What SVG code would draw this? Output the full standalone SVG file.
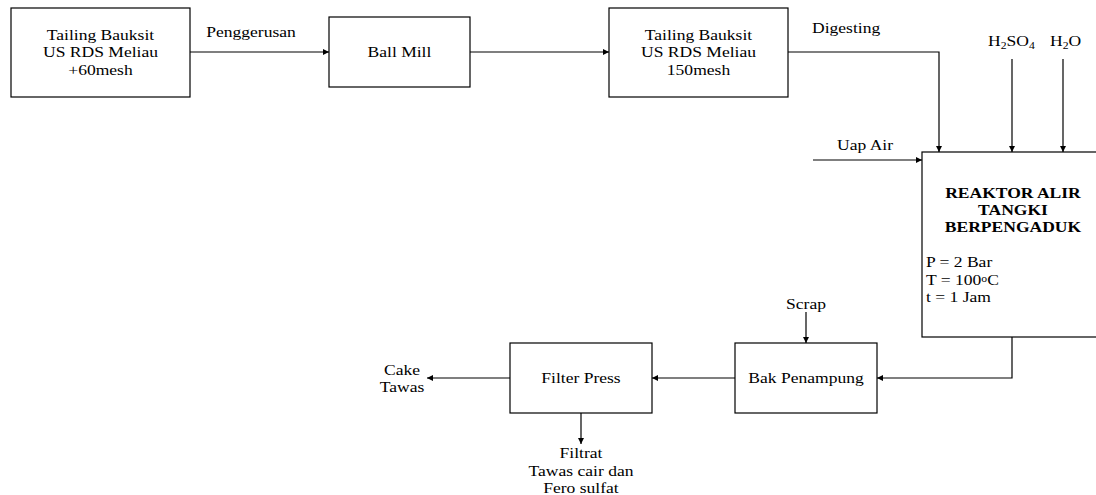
<svg xmlns="http://www.w3.org/2000/svg" width="1096" height="495" viewBox="0 0 1096 495">
<style>
.box{fill:#fff;stroke:#000;stroke-width:1.2}
.ln{fill:none;stroke:#000;stroke-width:1.2;marker-end:url(#ah)}
text{font-family:"Liberation Serif","Times New Roman",serif;font-size:15px;fill:#000}
.c{text-anchor:middle;transform-box:fill-box;transform-origin:center;transform:scaleX(1.17)}
.l{text-anchor:start;transform-box:fill-box;transform-origin:left center;transform:scaleX(1.17)}
.b{font-weight:bold}
.sub{font-size:10px}
</style>
<defs>
<marker id="ah" markerUnits="userSpaceOnUse" markerWidth="7" markerHeight="7" refX="6" refY="3" orient="auto">
<path d="M0,0 L6,3 L0,6 z" fill="#000"/>
</marker>
</defs>
<g id="connectors">
<path class="ln" d="M190 52 H329"/>
<path class="ln" d="M470 52 H609"/>
<path class="ln" d="M788 52 H939 V152"/>
<path class="ln" d="M1012 59 V152"/>
<path class="ln" d="M1063 59 V152"/>
<path class="ln" d="M813 160 H922"/>
<path class="ln" d="M1012 337 V378 H877"/>
<path class="ln" d="M806 312 V343"/>
<path class="ln" d="M735 378 H652"/>
<path class="ln" d="M510 378 H427"/>
<path class="ln" d="M581 413 V444"/>
</g>
<g id="labels">
<text class="c" x="251" y="37">Penggerusan</text>
<text class="l" x="812" y="33">Digesting</text>
<text class="l" x="988" y="46">H<tspan class="sub" dy="3">2</tspan><tspan dy="-3">SO</tspan><tspan class="sub" dy="3">4</tspan></text>
<text class="l" x="1050" y="46">H<tspan class="sub" dy="3">2</tspan><tspan dy="-3">O</tspan></text>
<text class="l" x="837" y="150">Uap Air</text>
<text class="c" x="806" y="309">Scrap</text>
<text class="c" x="402" y="375">Cake</text>
<text class="c" x="402" y="392">Tawas</text>
<text class="c" x="581" y="458">Filtrat</text>
<text class="c" x="581" y="476">Tawas cair dan</text>
<text class="c" x="581" y="493">Fero sulfat</text>
</g>
<g id="node-tailing60">
<rect class="box" x="11" y="8" width="179" height="89"/>
<text class="c" x="100.5" y="40">Tailing Bauksit</text>
<text class="c" x="100.5" y="57.5">US RDS Meliau</text>
<text class="c" x="100.5" y="75">+60mesh</text>
</g>
<g id="node-ballmill">
<rect class="box" x="329" y="17" width="141" height="70"/>
<text class="c" x="399.5" y="57">Ball Mill</text>
</g>
<g id="node-tailing150">
<rect class="box" x="609" y="8" width="179" height="89"/>
<text class="c" x="698.5" y="40">Tailing Bauksit</text>
<text class="c" x="698.5" y="57.5">US RDS Meliau</text>
<text class="c" x="698.5" y="75">150mesh</text>
</g>
<g id="node-reaktor">
<rect class="box" x="922" y="152" width="200" height="185"/>
<text class="c b" x="1013" y="198">REAKTOR ALIR</text>
<text class="c b" x="1013" y="215">TANGKI</text>
<text class="c b" x="1013" y="232">BERPENGADUK</text>
<text class="l" x="926" y="267">P = 2 Bar</text>
<text class="l" x="926" y="285">T = 100<tspan class="sub" dy="-3">o</tspan><tspan dy="3">C</tspan></text>
<text class="l" x="926" y="302">t = 1 Jam</text>
</g>
<g id="node-bak">
<rect class="box" x="735" y="343" width="142" height="70"/>
<text class="c" x="806" y="383">Bak Penampung</text>
</g>
<g id="node-filter">
<rect class="box" x="510" y="343" width="142" height="70"/>
<text class="c" x="581" y="383">Filter Press</text>
</g>
</svg>
